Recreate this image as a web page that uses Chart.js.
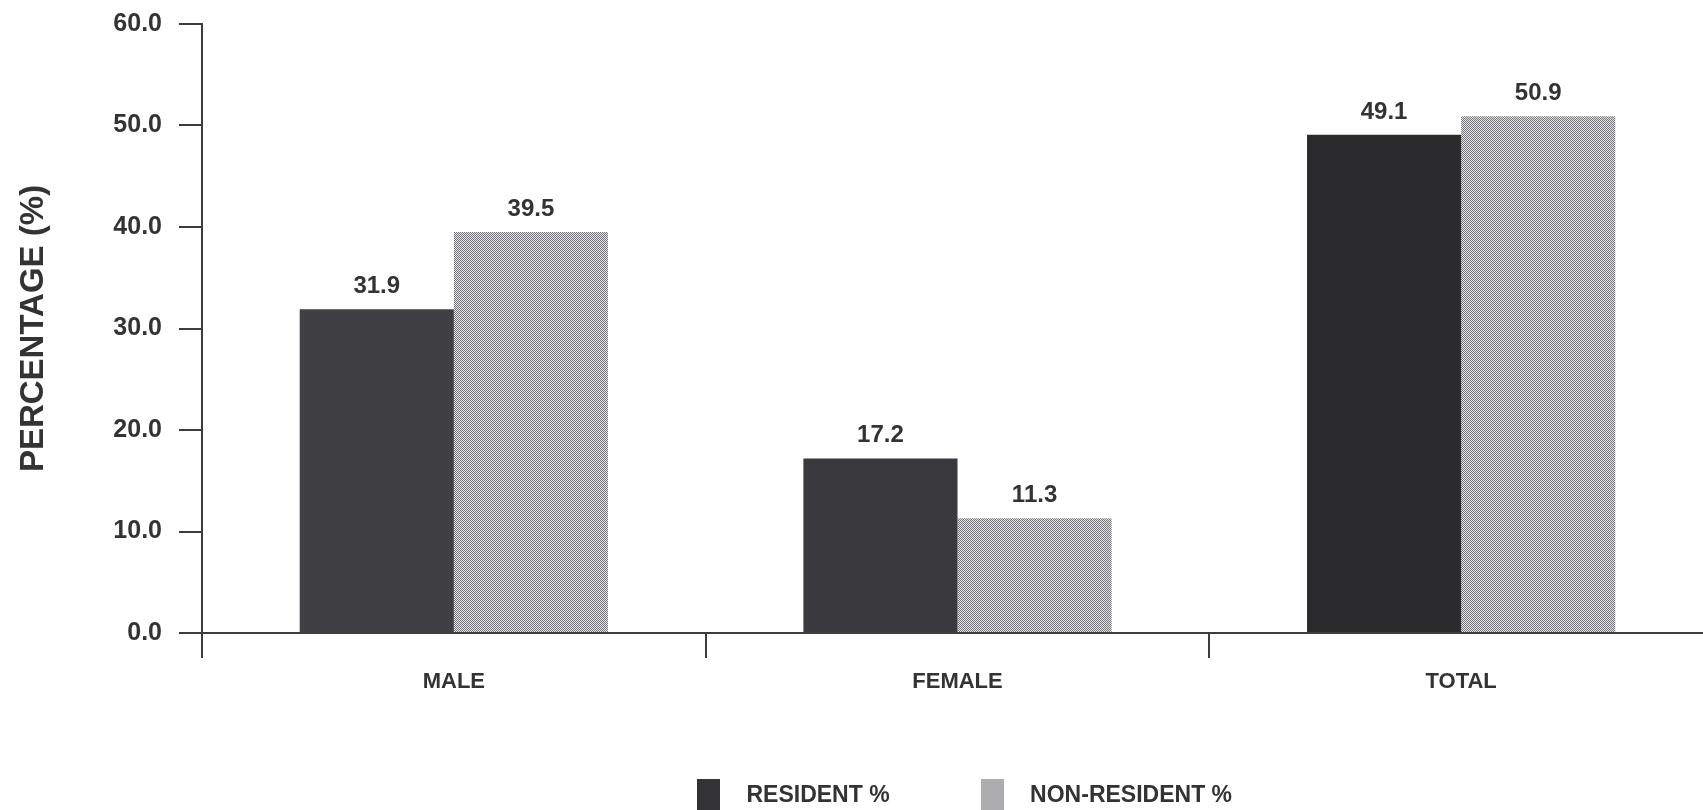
<!DOCTYPE html>
<html>
<head>
<meta charset="utf-8">
<title>Resident / Non-resident percentage</title>
<script src="https://cdn.jsdelivr.net/npm/chart.js@4.4.1/dist/chart.umd.min.js"></script>
<style>
  html, body { margin: 0; padding: 0; background: #fff; overflow: hidden; }
  #wrap { width: 1703px; height: 810px; overflow: hidden; }
</style>
</head>
<body>
<div id="wrap"><canvas id="chart" width="1713" height="817"></canvas></div>
<script>
// Data
const categories = ['MALE', 'FEMALE', 'TOTAL'];
const residentPct = [31.9, 17.2, 49.1];
const nonResidentPct = [39.5, 11.3, 50.9];
const yTicks = [0, 10, 20, 30, 40, 50, 60];

const ink = '#333336';
const axisColor = '#3c3c3c';
const font = "'Liberation Sans', Arial, sans-serif";

// dotted fill for the non-resident bars
function dotPattern() {
    const c = document.createElement('canvas');
    c.width = 2; c.height = 2;
    const g = c.getContext('2d');
    g.fillStyle = '#e2e2e4';
    g.fillRect(0, 0, 2, 2);
    g.fillStyle = '#78787c';
    g.fillRect(0, 0, 1, 1);
    g.fillRect(1, 1, 1, 1);
    return g.createPattern(c, 'repeat');
}
const dots = dotPattern();

// legend swatches (taller than wide, like the print)
function swatch(fill) {
    const c = document.createElement('canvas');
    c.width = 23; c.height = 34;
    const g = c.getContext('2d');
    g.fillStyle = fill;
    g.fillRect(0, 0, 23, 34);
    return c;
}

// value labels on top of each bar
const valueLabels = {
    id: 'valueLabels',
    afterDatasetsDraw(chart) {
        const ctx = chart.ctx;
        ctx.save();
        ctx.font = 'bold 24px ' + font;
        ctx.fillStyle = ink;
        ctx.textAlign = 'center';
        ctx.textBaseline = 'alphabetic';
        chart.data.datasets.forEach((ds, i) => {
            chart.getDatasetMeta(i).data.forEach((bar, j) => {
                ctx.fillText(ds.data[j].toFixed(1), bar.x, bar.y - 16);
            });
        });
        ctx.restore();
    }
};

const ctx = document.getElementById('chart').getContext('2d');
new Chart(ctx, {
    type: 'bar',
    data: {
        labels: categories,
        datasets: [{
            label: 'RESIDENT %',
            data: residentPct,
            backgroundColor: ['#404044', '#3a3a3e', '#2b2b2e'],
            pointStyle: swatch('#333336'),
            categoryPercentage: 0.612,
            barPercentage: 1.0
        }, {
            label: 'NON-RESIDENT %',
            data: nonResidentPct,
            backgroundColor: dots,
            pointStyle: swatch(dots),
            categoryPercentage: 0.612,
            barPercentage: 1.0
        }]
    },
    options: {
        responsive: false,
        animation: false,
        devicePixelRatio: 1,
        layout: { padding: { top: 24, left: 0, right: 0, bottom: 0 } },
        plugins: {
            tooltip: { enabled: false },
            legend: {
                position: 'bottom',
                fullSize: false,
                labels: {
                    usePointStyle: true,
                    pointStyleWidth: 52,
                    padding: 77,
                    color: ink,
                    font: { family: font, size: 23, weight: 'bold' }
                }
            }
        },
        scales: {
            x: {
                grid: {
                    offset: true,
                    drawOnChartArea: false,
                    tickLength: 25,
                    color: axisColor,
                    lineWidth: 2
                },
                border: { color: axisColor, width: 2 },
                ticks: {
                    padding: 11,
                    color: ink,
                    font: { family: font, size: 22, weight: 'bold' }
                },
                afterFit(scale) { scale.height = 74; }
            },
            y: {
                min: 0,
                max: 60,
                afterBuildTicks(scale) { scale.ticks = yTicks.map(v => ({ value: v })); },
                grid: {
                    drawOnChartArea: false,
                    tickLength: 23,
                    color: axisColor,
                    lineWidth: 2
                },
                border: { color: axisColor, width: 2 },
                ticks: {
                    padding: 17,
                    color: ink,
                    font: { family: font, size: 25, weight: 'bold' },
                    callback: v => Number(v).toFixed(1)
                },
                title: {
                    display: true,
                    text: 'PERCENTAGE (%)',
                    color: ink,
                    padding: { top: 14, bottom: 0 },
                    font: { family: font, size: 33, weight: 'bold' }
                },
                afterFit(scale) {
                    scale.width = 202;
                    scale.paddingTop = 0;
                    scale.paddingBottom = 0;
                }
            }
        }
    },
    plugins: [valueLabels]
});
</script>
</body>
</html>
